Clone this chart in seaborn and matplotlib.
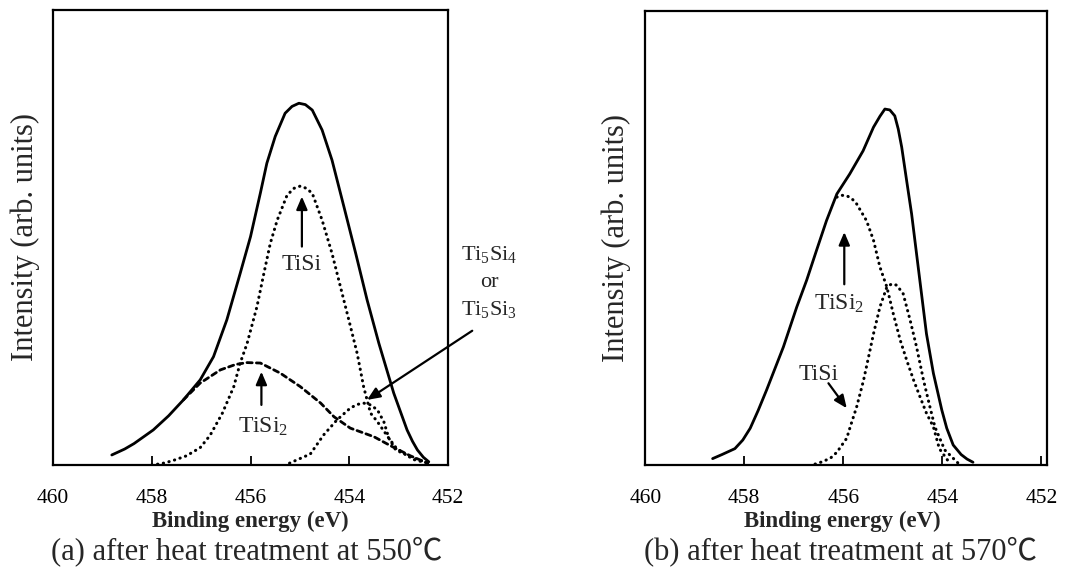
import matplotlib
matplotlib.use("Agg")
import matplotlib.pyplot as plt
import seaborn as sns

# ---------------- (a) 550 C : measured envelope and fitted components ----------------
A_TOTAL_E = [458.81, 458.55, 458.36, 457.97, 457.66, 457.36, 457.02, 456.75, 456.48, 456.21,
             456.00, 455.80, 455.67, 455.50, 455.30, 455.16, 455.02, 454.89, 454.75, 454.55,
             454.35, 454.11, 453.87, 453.64, 453.40, 453.10, 452.83, 452.72, 452.62, 452.50,
             452.39]
A_TOTAL_I = [2.2, 3.5, 4.7, 7.7, 10.8, 14.3, 18.7, 23.8, 31.9, 42.1,
             50.2, 59.8, 66.3, 72.2, 77.3, 78.8, 79.5, 79.2, 78.0, 73.6,
             67.0, 56.8, 46.5, 36.3, 26.7, 15.8, 7.7, 5.2, 3.3, 1.7,
             0.7]

A_TISI_E = [458.00, 457.80, 457.59, 457.30, 457.02, 456.82, 456.57, 456.34, 456.21, 456.07,
            455.87, 455.73, 455.60, 455.46, 455.26, 455.12, 454.99, 454.87, 454.75, 454.55,
            454.35, 454.18, 454.01, 453.84, 453.71, 453.57, 453.43, 453.20, 453.04, 452.70,
            452.41]
A_TISI_I = [0.0, 0.3, 0.9, 2.0, 3.8, 6.5, 11.4, 17.2, 22.4, 26.7,
            34.8, 42.1, 48.7, 53.8, 59.3, 60.8, 61.3, 60.8, 59.7, 53.8,
            46.5, 39.2, 31.9, 24.5, 17.2, 11.4, 9.5, 5.9, 3.6, 1.2,
            0.4]

A_TISI2_E = [457.36, 457.02, 456.61, 456.30, 456.07, 455.80, 455.40, 454.99, 454.58, 454.31,
             453.98, 453.50, 453.16, 452.76, 452.41]
A_TISI2_I = [14.3, 18.0, 20.9, 22.1, 22.5, 22.4, 20.2, 17.2, 13.6, 10.6,
             8.1, 6.2, 4.2, 2.0, 0.4]

A_TI5SI_E = [455.21, 454.79, 454.52, 454.25, 453.98, 453.84, 453.71, 453.57, 453.43, 453.30,
             453.20, 453.06, 452.76, 452.41]
A_TI5SI_I = [0.4, 2.4, 6.6, 9.9, 12.5, 13.3, 13.6, 13.2, 12.1, 9.5,
             5.9, 3.3, 1.8, 0.4]

# ---------------- (b) 570 C ----------------
B_TOTAL_E = [458.64, 458.45, 458.19, 458.03, 457.88, 457.72, 457.55, 457.21, 456.94, 456.74,
             456.54, 456.34, 456.13, 455.87, 455.60, 455.39, 455.26, 455.16, 455.06, 454.96,
             454.89, 454.82, 454.72, 454.62, 454.52, 454.42, 454.32, 454.18, 454.01, 453.91,
             453.78, 453.62, 453.50, 453.38]
B_TOTAL_I = [1.4, 2.3, 3.6, 5.5, 8.1, 12.0, 16.5, 26.0, 34.8, 40.7,
             47.3, 53.8, 59.7, 64.1, 69.2, 74.4, 76.8, 78.4, 78.2, 76.9,
             74.0, 70.0, 62.6, 55.3, 46.5, 37.7, 28.9, 20.2, 12.1, 8.1,
             4.4, 2.3, 1.3, 0.6]

B_TISI2_E = [456.13, 456.03, 455.93, 455.83, 455.73, 455.53, 455.39, 455.26, 455.12, 454.99,
             454.85, 454.72, 454.58, 454.45, 454.32, 454.18, 454.06, 453.85]
B_TISI2_I = [59.0, 59.4, 59.3, 58.7, 57.5, 53.8, 49.5, 43.6, 39.2, 33.3,
             27.5, 23.1, 18.7, 15.0, 11.4, 8.4, 3.6, 0.4]

B_TISI_E = [456.57, 456.40, 456.25, 456.13, 455.93, 455.86, 455.73, 455.59, 455.46, 455.39,
            455.26, 455.12, 455.02, 454.92, 454.79, 454.65, 454.52, 454.38, 454.25, 454.15,
            453.95, 453.68]
B_TISI_I = [0.2, 0.8, 1.6, 2.8, 5.9, 8.4, 12.8, 18.7, 25.3, 28.9,
            34.8, 39.2, 39.9, 39.6, 37.7, 31.9, 26.0, 18.7, 12.8, 8.4,
            3.3, 0.4]

ENERGY_TICKS = [460, 458, 456, 454, 452]
TICK_LABELS = ["460", "458", "456", "454", "452"]

# ---------------- style ----------------
sns.set_style("white")
plt.rcParams["font.family"] = ["Liberation Serif", "Noto Sans CJK JP"]
plt.rcParams["mathtext.fontset"] = "custom"
plt.rcParams["mathtext.rm"] = "Liberation Serif"
plt.rcParams["mathtext.it"] = "Liberation Serif:italic"
plt.rcParams["mathtext.bf"] = "Liberation Serif:bold"

DOT = (0, (0.1, 1.8))
DASH = (0, (1.9, 1.5))

fig = plt.figure(figsize=(10.65, 5.72), dpi=100)
ax_a = fig.add_axes([0.0498, 0.1871, 0.3709, 0.7955])
ax_b = fig.add_axes([0.6059, 0.1871, 0.3772, 0.7937])


def curve(ax, energy, intensity, style, lw):
    sns.lineplot(x=energy, y=intensity, ax=ax, color="black", linestyle=style,
                 linewidth=lw, sort=False, estimator=None,
                 dash_capstyle="round", solid_capstyle="round", solid_joinstyle="round")


def arrow(ax, tail, tip):
    ax.annotate("", xy=tip, xytext=tail, annotation_clip=False,
                arrowprops=dict(arrowstyle="-|>,head_length=0.7,head_width=0.3",
                                color="black", lw=1.6, mutation_scale=11,
                                shrinkA=0, shrinkB=0))


def frame(ax, xmax_right):
    ax.set_xlim(460, xmax_right)
    ax.set_ylim(0, 100)
    ax.set_xticks(ENERGY_TICKS)
    ax.set_xticklabels(TICK_LABELS)
    ax.set_yticks([])
    ax.tick_params(axis="x", bottom=True, direction="in", length=6.5, width=1.3,
                   pad=17, labelsize=15.5, color="black", labelcolor="black")
    for sp in ax.spines.values():
        sp.set_visible(True)
        sp.set_color("black")
        sp.set_linewidth(1.6)
    ax.set_xlabel("Binding energy (eV)", fontsize=16.5, fontweight="bold", va="center")
    ax.set_ylabel("Intensity (arb. units)", fontsize=22, va="center")
    ax.yaxis.set_label_coords(-0.071, 0.5)
    ax.xaxis.set_label_coords(0.5, -0.124)


# ---- panel (a)
curve(ax_a, A_TOTAL_E, A_TOTAL_I, "-", 2.0)
curve(ax_a, A_TISI_E, A_TISI_I, DOT, 2.2)
curve(ax_a, A_TISI2_E, A_TISI2_I, DASH, 2.0)
curve(ax_a, A_TI5SI_E, A_TI5SI_I, DOT, 2.2)
frame(ax_a, 452)

arrow(ax_a, (454.96, 48.0), (454.96, 59.0))
ax_a.text(454.97, 44.0, "TiSi", fontsize=17, ha="center", va="center")
arrow(ax_a, (455.78, 13.2), (455.78, 20.5))
ax_a.text(455.75, 8.4, r"TiSi$_{2}$", fontsize=17, ha="center", va="center")
ax_a.text(451.16, 46.2, r"Ti$_{5}$Si$_{4}$", fontsize=16, ha="center", va="center", clip_on=False)
ax_a.text(451.16, 40.1, "or", fontsize=16, ha="center", va="center", clip_on=False)
ax_a.text(451.16, 34.1, r"Ti$_{5}$Si$_{3}$", fontsize=16, ha="center", va="center", clip_on=False)
arrow(ax_a, (451.51, 29.5), (453.64, 14.3))

# ---- panel (b)
curve(ax_b, B_TOTAL_E, B_TOTAL_I, "-", 2.0)
curve(ax_b, B_TISI2_E, B_TISI2_I, DOT, 2.2)
curve(ax_b, B_TISI_E, B_TISI_I, DOT, 2.2)
frame(ax_b, 451.885)
ax_b.xaxis.set_label_coords(0.49, -0.124)
ax_b.yaxis.set_label_coords(-0.073, 0.5)

arrow(ax_b, (455.98, 39.8), (455.98, 51.3))
ax_b.text(456.09, 35.6, r"TiSi$_{2}$", fontsize=17, ha="center", va="center")
ax_b.text(456.49, 20.0, "TiSi", fontsize=17, ha="center", va="center")
arrow(ax_b, (456.30, 18.0), (455.93, 12.5))

# ---- captions
fig.text(247 / 1065, 1 - 551 / 572, "(a) after heat treatment at 550℃",
         fontsize=22, ha="center", va="center")
fig.text(840 / 1065, 1 - 551 / 572, "(b) after heat treatment at 570℃",
         fontsize=22, ha="center", va="center")

fig.savefig("out.png", dpi=100, facecolor="white")
